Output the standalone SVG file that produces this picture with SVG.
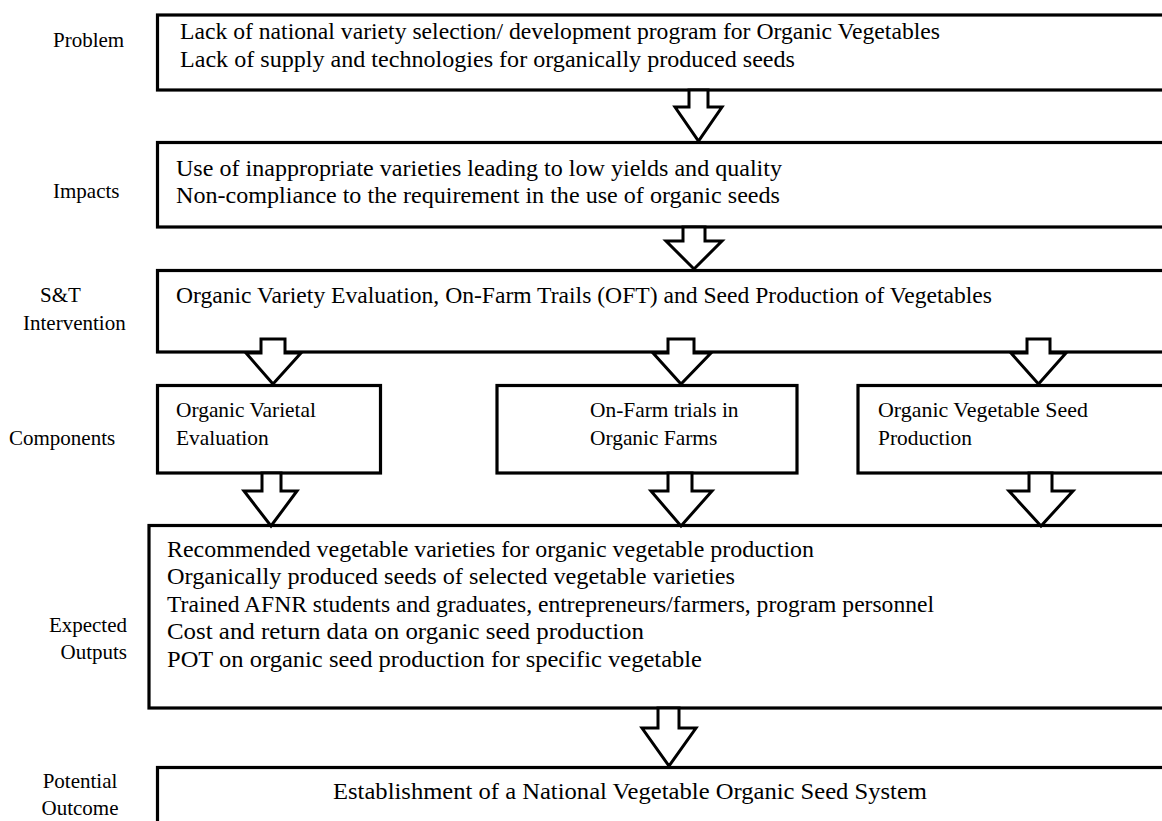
<svg xmlns="http://www.w3.org/2000/svg" width="1162" height="821" viewBox="0 0 1162 821">
<style>
.box{fill:#fff;stroke:#000;stroke-width:3.2}
.arr{fill:#fff;stroke:#000;stroke-width:3;stroke-linejoin:miter}
text{font-family:"Liberation Serif","Times New Roman",serif;font-size:21px;fill:#000}
.b{font-size:23.8px}
.c{font-size:21.4px}
.r{text-anchor:end}
.m{text-anchor:middle}
</style>
<rect width="1162" height="821" fill="#fff"/>
<g id="labels">
<text x="53" y="47">Problem</text>
<text x="53" y="198">Impacts</text>
<text x="40" y="302">S&amp;T</text>
<text x="23" y="330">Intervention</text>
<text x="9" y="445">Components</text>
<text class="r" x="127" y="632">Expected</text>
<text class="r" x="127" y="659">Outputs</text>
<text class="m" x="80" y="788">Potential</text>
<text class="m" x="80" y="815">Outcome</text>
</g>
<g id="problem">
<rect class="box" x="157.5" y="15" width="1030" height="75"/>
<text class="b" x="180" y="39" textLength="760" lengthAdjust="spacingAndGlyphs">Lack of national variety selection/ development program for Organic Vegetables</text>
<text class="b" x="180" y="67" textLength="615" lengthAdjust="spacingAndGlyphs">Lack of supply and technologies for organically produced seeds</text>
</g>
<g id="impacts">
<rect class="box" x="157.5" y="142.5" width="1030" height="84.5"/>
<text class="b" x="176" y="176" textLength="606" lengthAdjust="spacingAndGlyphs">Use of inappropriate varieties leading to low yields and quality</text>
<text class="b" x="176" y="203" textLength="604" lengthAdjust="spacingAndGlyphs">Non-compliance to the requirement in the use of organic seeds</text>
</g>
<g id="intervention">
<rect class="box" x="157.5" y="270.5" width="1030" height="81.5"/>
<text class="b" x="176" y="303" textLength="816" lengthAdjust="spacingAndGlyphs">Organic Variety Evaluation, On-Farm Trails (OFT) and Seed Production of Vegetables</text>
</g>
<g id="comp1">
<rect class="box" x="157.5" y="385.5" width="223" height="87.5"/>
<text class="c" x="176" y="417">Organic Varietal</text>
<text class="c" x="176" y="445">Evaluation</text>
</g>
<g id="comp2">
<rect class="box" x="497" y="385.5" width="300" height="87.5"/>
<text class="c" x="590" y="417">On-Farm trials in</text>
<text class="c" x="590" y="445">Organic Farms</text>
</g>
<g id="comp3">
<rect class="box" x="858" y="385.5" width="330" height="87.5"/>
<text class="c" x="878" y="417" textLength="210" lengthAdjust="spacingAndGlyphs">Organic Vegetable Seed</text>
<text class="c" x="878" y="445">Production</text>
</g>
<g id="outputs">
<rect class="box" x="149" y="525.5" width="1040" height="182.5"/>
<text class="b" x="167" y="557" textLength="647" lengthAdjust="spacingAndGlyphs">Recommended vegetable varieties for organic vegetable production</text>
<text class="b" x="167" y="584" textLength="568" lengthAdjust="spacingAndGlyphs">Organically produced seeds of selected vegetable varieties</text>
<text class="b" x="167" y="612" textLength="767" lengthAdjust="spacingAndGlyphs">Trained AFNR students and graduates, entrepreneurs/farmers, program personnel</text>
<text class="b" x="167" y="639" textLength="477" lengthAdjust="spacingAndGlyphs">Cost and return data on organic seed production</text>
<text class="b" x="167" y="667" textLength="535" lengthAdjust="spacingAndGlyphs">POT on organic seed production for specific vegetable</text>
</g>
<g id="outcome">
<rect class="box" x="157.5" y="767.5" width="1030" height="80"/>
<text class="b" x="333" y="799" textLength="594" lengthAdjust="spacingAndGlyphs">Establishment of a National Vegetable Organic Seed System</text>
</g>
<g id="connectors">
<polygon class="arr" points="689,90 708,90 708,107 722,107 698.5,141 675,107 689,107"/>
<polygon class="arr" points="683,227 705,227 705,241 722,241 694,269 666,241 683,241"/>
<polygon class="arr" points="261,339 285,339 285,353 301,353 273,384 246,353 261,353"/>
<polygon class="arr" points="668,339 694,339 694,353 711,353 681,384 653,353 668,353"/>
<polygon class="arr" points="1027,339 1050,339 1050,353 1066,353 1038.5,384 1011,353 1027,353"/>
<polygon class="arr" points="262,473 281,473 281,491 297,491 271,526 244,491 262,491"/>
<polygon class="arr" points="668,473 692,473 692,491 712,491 681,526 651,491 668,491"/>
<polygon class="arr" points="1029,473 1052,473 1052,491 1073,491 1041,526 1009,491 1029,491"/>
<polygon class="arr" points="658,708 679,708 679,728 696,728 669,766 642,728 658,728"/>
</g>
</svg>
